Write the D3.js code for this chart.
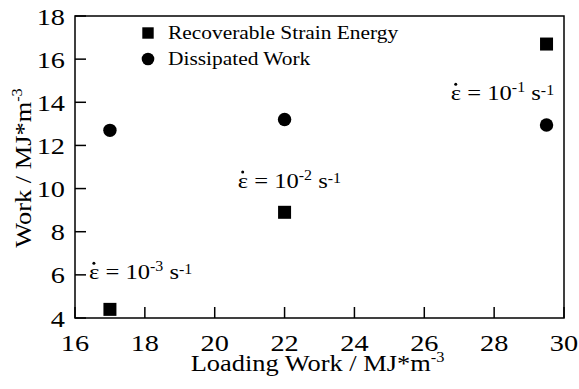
<!DOCTYPE html>
<html>
<head>
<meta charset="utf-8">
<script src="https://cdn.jsdelivr.net/npm/d3@7"></script>
<style>
  body { margin: 0; background: #fff; }
  svg { display: block; }
  text { font-family: "Liberation Serif", "Times New Roman", serif; fill: #000; }
</style>
</head>
<body>
<div id="chart"></div>
<script>
'use strict';

// data
const loadingWork = [17, 22, 29.5];
const recoverableEnergy = [4.4, 8.9, 16.7];
const dissipatedWork = [12.7, 13.2, 12.95];
const rateExponents = [-3, -2, -1];
const xTicks = [16, 18, 20, 22, 24, 26, 28, 30];
const yTicks = [4, 6, 8, 10, 12, 14, 16, 18];
const seriesNames = ['Recoverable Strain Energy', 'Dissipated Work'];

// where the strain-rate labels sit (data units, start of text / baseline)
const rateLabelX = [16.4, 20.66, 26.76];
const rateLabelY = [5.8, 10.03, 14.1];

const width = 579, height = 389;
const margin = {top: 16, right: 15, bottom: 71, left: 75};
const innerW = width - margin.left - margin.right;
const innerH = height - margin.top - margin.bottom;

const svg = d3.select('#chart').append('svg')
  .attr('width', width)
  .attr('height', height);

const g = svg.append('g')
  .attr('transform', `translate(${margin.left},${margin.top})`);

const x = d3.scaleLinear().domain([16, 30]).range([0, innerW]);
const y = d3.scaleLinear().domain([4, 18]).range([innerH, 0]);

// text in the figure is a little wider than Times, so stretch it sideways
function stretched(parent, px, py, sx) {
  return parent.append('text')
    .attr('transform', `translate(${px},${py}) scale(${sx},1)`);
}

// frame
g.append('rect')
  .attr('width', innerW)
  .attr('height', innerH)
  .attr('fill', 'none')
  .attr('stroke', '#000')
  .attr('stroke-width', 1.5);

// inward ticks
g.append('g').selectAll('line').data(xTicks).join('line')
  .attr('x1', d => x(d)).attr('x2', d => x(d))
  .attr('y1', innerH).attr('y2', innerH - 11)
  .attr('stroke', '#000').attr('stroke-width', 1.5);

g.append('g').selectAll('line').data(yTicks).join('line')
  .attr('x1', 0).attr('x2', 11)
  .attr('y1', d => y(d)).attr('y2', d => y(d))
  .attr('stroke', '#000').attr('stroke-width', 1.5);

const tickFont = 24, tickSx = 1.18;
xTicks.forEach(d => {
  stretched(g, x(d), innerH + 33, tickSx)
    .attr('text-anchor', 'middle')
    .attr('font-size', tickFont)
    .text(d);
});
yTicks.forEach(d => {
  stretched(g, -10, y(d) + 8.5, tickSx)
    .attr('text-anchor', 'end')
    .attr('font-size', tickFont)
    .text(d);
});

// axis titles
const titleFont = 24, titleSx = 1.1;
const xt = stretched(svg, margin.left + innerW / 2 - 2, 371, titleSx)
  .attr('text-anchor', 'middle')
  .attr('font-size', titleFont);
xt.append('tspan').text('Loading Work / MJ*m');
xt.append('tspan').attr('font-size', '0.62em').attr('dy', '-0.62em').text('-3');

const yt = svg.append('text')
  .attr('transform', `translate(31,168) rotate(-90) scale(${titleSx},1)`)
  .attr('text-anchor', 'middle')
  .attr('font-size', titleFont);
yt.append('tspan').text('Work / MJ*m');
yt.append('tspan').attr('font-size', '0.62em').attr('dy', '-0.62em').text('-3');

// points
g.append('g').selectAll('rect').data(loadingWork).join('rect')
  .attr('x', (d, i) => x(d) - 6.5)
  .attr('y', (d, i) => y(recoverableEnergy[i]) - 6.5)
  .attr('width', 13).attr('height', 13)
  .attr('fill', '#000');

g.append('g').selectAll('circle').data(loadingWork).join('circle')
  .attr('cx', d => x(d))
  .attr('cy', (d, i) => y(dissipatedWork[i]))
  .attr('r', 6.7)
  .attr('fill', '#000');

// strain-rate labels, epsilon with a rate dot over it
const noteFont = 21, noteSx = 1.17;
rateExponents.forEach((e, i) => {
  const px = x(rateLabelX[i]), py = y(rateLabelY[i]);
  const t = stretched(g, px, py, noteSx)
    .attr('font-size', noteFont);
  t.append('tspan').text('\u03b5 = 10');
  t.append('tspan').attr('font-size', '0.65em').attr('dy', '-0.6em').text(String(e));
  t.append('tspan').attr('dy', '0.39em').text(' s');
  t.append('tspan').attr('font-size', '0.65em').attr('dy', '-0.39em').text('-1');
  g.append('circle')
    .attr('cx', px + 0.2 * noteFont * noteSx)
    .attr('cy', py - 16)
    .attr('r', 1.5)
    .attr('fill', '#000');
});

// legend
const legend = svg.append('g').attr('transform', 'translate(148,33)');
legend.append('rect')
  .attr('x', -5.7).attr('y', -5.7)
  .attr('width', 11.4).attr('height', 11.4)
  .attr('fill', '#000');
legend.append('circle')
  .attr('cx', 0).attr('cy', 26)
  .attr('r', 6.3)
  .attr('fill', '#000');
seriesNames.forEach((name, i) => {
  stretched(legend, 20, 6 + i * 26, 1.19)
    .attr('font-size', 18)
    .text(name);
});
</script>
</body>
</html>
